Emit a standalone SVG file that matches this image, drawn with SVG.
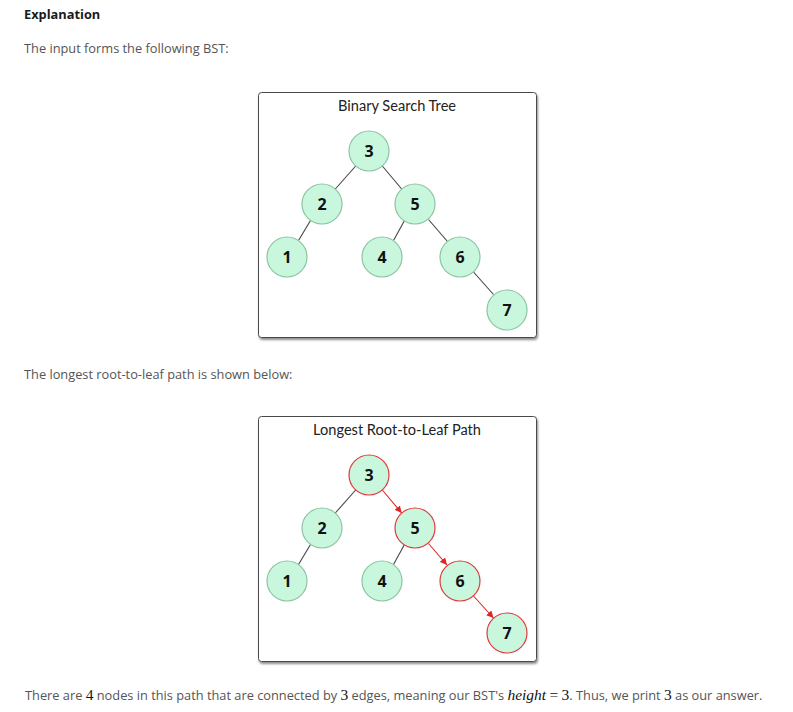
<svg xmlns="http://www.w3.org/2000/svg" width="793" height="712" viewBox="0 0 793 712">
<style>
.txt{font-family:"Open Sans","Noto Sans",sans-serif;font-size:12.8px;fill:#555}
.hdr{font-family:"Open Sans","Noto Sans",sans-serif;font-size:12.8px;font-weight:bold;fill:#1a1a1a}
.title{font-family:Lato,"Open Sans",sans-serif;font-size:14.6px;fill:#222;text-anchor:middle}
.box{fill:#fff;stroke:#4a4a4a;stroke-width:1}
.node circle{fill:#c9f7de;stroke:#8cc4a2;stroke-width:1.2}
.node.hl circle{stroke:#e0393b}
.node text{font-family:"Open Sans","DejaVu Sans",sans-serif;font-size:16px;font-weight:bold;fill:#111;text-anchor:middle}
.edge{stroke:#444;stroke-width:1.1}
.red{stroke:#e02424;stroke-width:1.1;marker-end:url(#arr)}
.math{font-family:"Liberation Serif","DejaVu Serif",serif;font-size:15.5px;fill:#111}
</style>
<defs>
<marker id="arr" viewBox="0 0 10 10" refX="10" refY="5" markerWidth="7" markerHeight="7" markerUnits="userSpaceOnUse" orient="auto">
<path d="M0,0 L10,5 L0,10 z" fill="#e02424"/>
</marker>
<filter id="sh" x="-5%" y="-5%" width="110%" height="112%">
<feDropShadow dx="1" dy="2" stdDeviation="1.2" flood-color="#000" flood-opacity="0.45"/>
</filter>
</defs>
<rect width="793" height="712" fill="#fff"/>
<text class="hdr" x="24" y="19">Explanation</text>
<text class="txt" x="24" y="53">The input forms the following BST:</text>
<text class="txt" x="24" y="379">The longest root-to-leaf path is shown below:</text>

<!-- Diagram 1 -->
<rect class="box" x="258.5" y="92.5" width="278" height="245" rx="3" filter="url(#sh)"/>
<text class="title" x="397" y="111">Binary Search Tree</text>
<g id="edges1">
<line class="edge" x1="355.7" y1="166" x2="335.3" y2="189"/>
<line class="edge" x1="382.3" y1="166" x2="401.7" y2="189"/>
<line class="edge" x1="310.5" y1="220.5" x2="298.5" y2="240.5"/>
<line class="edge" x1="404.5" y1="220.5" x2="393.5" y2="240.5"/>
<line class="edge" x1="428.5" y1="219.5" x2="447.5" y2="241.5"/>
<line class="edge" x1="473.5" y1="272" x2="493.5" y2="294.5"/>
</g>
<g id="t1n3" class="node"><circle cx="369" cy="151" r="20"/><text x="369" y="157">3</text></g>
<g id="t1n2" class="node"><circle cx="322" cy="204" r="20"/><text x="322" y="210">2</text></g>
<g id="t1n5" class="node"><circle cx="415" cy="204" r="20"/><text x="415" y="210">5</text></g>
<g id="t1n1" class="node"><circle cx="287" cy="257" r="20"/><text x="287" y="263">1</text></g>
<g id="t1n4" class="node"><circle cx="382" cy="257" r="20"/><text x="382" y="263">4</text></g>
<g id="t1n6" class="node"><circle cx="460" cy="257" r="20"/><text x="460" y="263">6</text></g>
<g id="t1n7" class="node"><circle cx="507" cy="310" r="20"/><text x="507" y="316">7</text></g>

<!-- Diagram 2 -->
<rect class="box" x="258.5" y="416.5" width="278" height="245" rx="3" filter="url(#sh)"/>
<text class="title" x="397" y="435">Longest Root-to-Leaf Path</text>
<g id="edges2">
<line class="edge" x1="355.7" y1="490" x2="335.3" y2="513"/>
<line class="red" x1="382.3" y1="490" x2="401.7" y2="513"/>
<line class="edge" x1="310.5" y1="544.5" x2="298.5" y2="564.5"/>
<line class="edge" x1="404.5" y1="544.5" x2="393.5" y2="564.5"/>
<line class="red" x1="428.5" y1="543.5" x2="447" y2="565"/>
<line class="red" x1="473.5" y1="596" x2="493.5" y2="618"/>
</g>
<g id="t2n3" class="node hl"><circle cx="369" cy="475" r="20"/><text x="369" y="481">3</text></g>
<g id="t2n2" class="node"><circle cx="322" cy="528" r="20"/><text x="322" y="534">2</text></g>
<g id="t2n5" class="node hl"><circle cx="415" cy="528" r="20"/><text x="415" y="534">5</text></g>
<g id="t2n1" class="node"><circle cx="287" cy="581" r="20"/><text x="287" y="587">1</text></g>
<g id="t2n4" class="node"><circle cx="382" cy="581" r="20"/><text x="382" y="587">4</text></g>
<g id="t2n6" class="node hl"><circle cx="460" cy="581" r="20"/><text x="460" y="587">6</text></g>
<g id="t2n7" class="node hl"><circle cx="507" cy="633" r="20"/><text x="507" y="639">7</text></g>

<text class="txt" x="25" y="700">There are <tspan class="math">4</tspan> nodes in this path that are connected by <tspan class="math">3</tspan> edges, meaning our BST's <tspan class="math" font-style="italic">height</tspan> <tspan class="math" fill="#777">=</tspan> <tspan class="math">3</tspan>. Thus, we print <tspan class="math">3</tspan> as our answer.</text>
</svg>
